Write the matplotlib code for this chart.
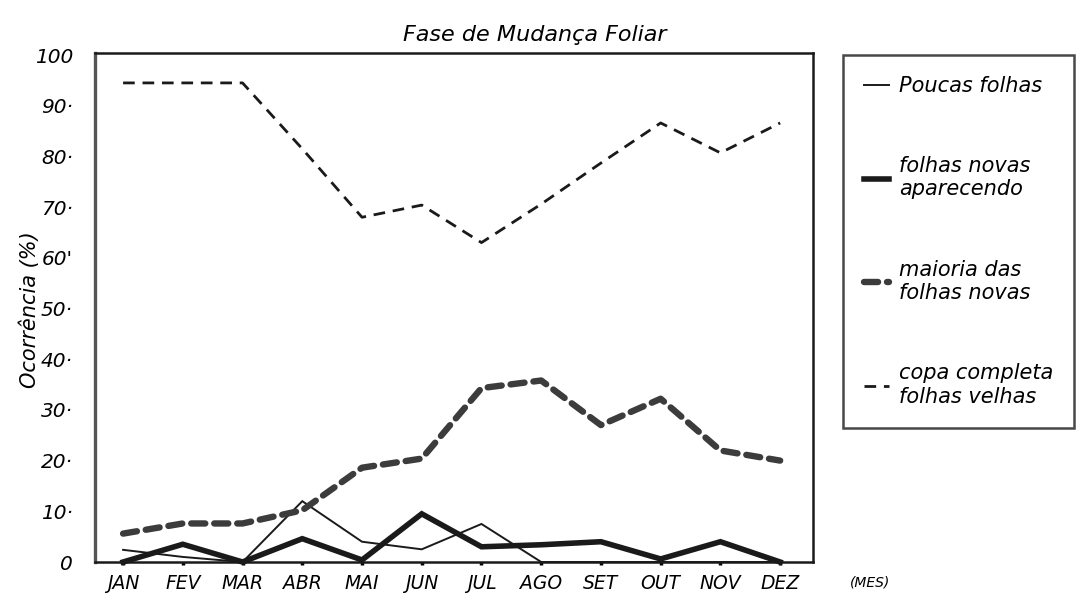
import matplotlib
matplotlib.use("Agg")
import matplotlib.pyplot as plt

# months and tick labels
meses = ["JAN", "FEV", "MAR", "ABR", "MAI", "JUN",
         "JUL", "AGO", "SET", "OUT", "NOV", "DEZ"]
y_ticks = [0, 10, 20, 30, 40, 50, 60, 70, 80, 90, 100]
y_tick_labels = ["0", "10·", "20·", "30·", "40·", "50·",
                 "60'", "70·", "80·", "90·", "100"]

# occurrence (%)
poucas_folhas = [2.4, 1.0, 0.0, 12.0, 4.0, 2.5, 7.5, 0.0, 0.0, 0.0, 0.0, 0.0]
folhas_novas_aparecendo = [0.0, 3.5, 0.0, 4.6, 0.4, 9.5, 3.0, 3.4, 4.0, 0.6, 4.0, 0.0]
maioria_folhas_novas = [5.6, 7.6, 7.6, 10.2, 18.6, 20.4, 34.3, 35.8, 27.0, 32.2, 22.0, 20.0]
copa_completa = [94.5, 94.5, 94.5, 81.5, 68.0, 70.4, 63.0, 70.6, 78.7, 86.6, 80.7, 86.6]

plt.rcParams['font.family'] = ['DejaVu Sans']
plt.rcParams['font.style'] = 'italic'

fig = plt.figure(figsize=(10.8, 6.0), dpi=100)
ax = fig.add_axes([95 / 1080, 38 / 600, 718 / 1080, 509 / 600])

x = range(len(meses))
l1, = ax.plot(x, poucas_folhas, color='#1a1a1a', lw=1.4, clip_on=False,
              solid_joinstyle='miter')
l2, = ax.plot(x, folhas_novas_aparecendo, color='#1a1a1a', lw=4.0,
              clip_on=False, solid_joinstyle='miter')
l3, = ax.plot(x, maioria_folhas_novas, color='#3c3c3c', lw=4.6,
              dashes=(2.2, 1.4), dash_capstyle='round', clip_on=False)
l4, = ax.plot(x, copa_completa, color='#1a1a1a', lw=2.0,
              dashes=(4.2, 2.8), clip_on=False)

ax.set_xlim(-0.47, 11.55)
ax.set_ylim(0, 100.4)

ax.set_xticks(list(x))
ax.set_xticklabels(meses, fontsize=13.5)
ax.set_yticks(y_ticks)
ax.set_yticklabels(y_tick_labels, fontsize=14.5)
ax.tick_params(axis='x', length=2.5, width=2.5, pad=6, direction='out')
ax.tick_params(axis='y', length=0, pad=16)

for side in ['left', 'right', 'top', 'bottom']:
    ax.spines[side].set_linewidth(1.8)
    ax.spines[side].set_color('#1a1a1a')
ax.spines['left'].set_color('#555555')
ax.spines['left'].set_linewidth(2.4)

fig.text(30 / 1080, 1 - 310 / 600, "Ocorrência (%)", rotation=90,
         ha='center', va='center', fontsize=15)

fig.text(535 / 1080, 1 - 35 / 600, "Fase de Mudança Foliar",
         ha='center', va='center', fontsize=16)
fig.text(850 / 1080, 1 - 583 / 600, "(MES)", ha='left', va='center',
         fontsize=10)

leg = fig.legend([l1, l2, l3, l4],
                 ["Poucas folhas", "folhas novas\naparecendo",
                  "maioria das\nfolhas novas", "copa completa\nfolhas velhas"],
                 loc='upper left', bbox_to_anchor=(843 / 1080, 1 - 55 / 600),
                 fontsize=15, handlelength=1.2, handletextpad=0.5,
                 labelspacing=2.9, borderpad=1.0, borderaxespad=0,
                 frameon=True, fancybox=False, edgecolor='#1a1a1a')
leg.get_frame().set_linewidth(1.8)

plt.savefig("out.png", dpi=100)
